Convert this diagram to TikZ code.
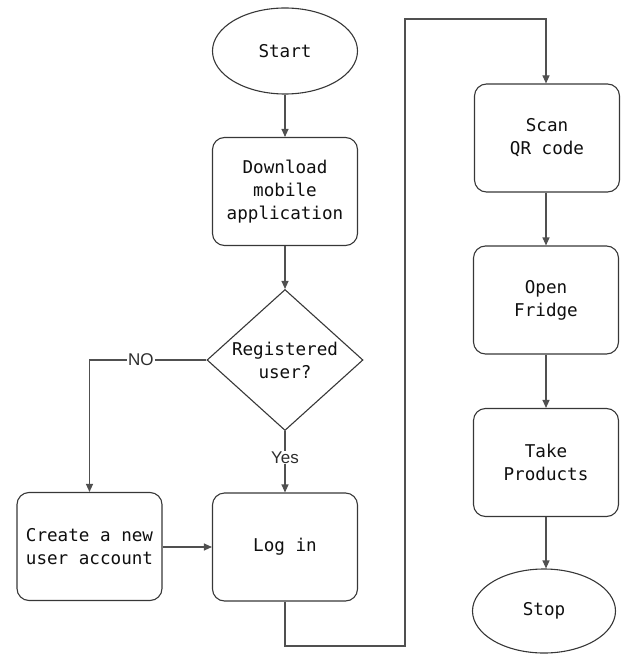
\documentclass[tikz,border=0pt]{standalone}
\usepackage{fontspec}
\usetikzlibrary{shapes.geometric,arrows.meta}
\newfontfamily\boxfont{DejaVu Sans Mono}
\newfontfamily\lblfont{Liberation Sans}
\definecolor{shapeclr}{RGB}{55,55,55}
\definecolor{lineclr}{RGB}{80,80,80}
\definecolor{txtclr}{RGB}{15,15,15}
\definecolor{lblclr}{RGB}{45,45,45}
\tikzset{
  boxtext/.style={font=\boxfont\fontsize{17.6}{23}\selectfont, text=txtclr, align=center},
  stepbox/.style={boxtext, draw=shapeclr, line width=1.1pt, rounded corners=12pt,
    minimum width=145pt, minimum height=108pt, inner sep=0pt},
  termbox/.style={boxtext, draw=shapeclr, line width=1.1pt, ellipse,
    minimum width=145pt, minimum height=86pt, inner sep=0pt},
  decbox/.style={draw=shapeclr, line width=1.1pt, diamond,
    minimum width=156pt, minimum height=141pt, inner sep=0pt},
  conn/.style={draw=lineclr, line width=1.1pt, -{Triangle[length=8pt,width=7pt]}},
  lbl/.style={font=\lblfont\fontsize{17}{20}\selectfont, text=lblclr, fill=white, inner sep=1pt}
}
\begin{document}
\begin{tikzpicture}[x=1pt,y=-1pt]
\useasboundingbox (0,0) rectangle (621,655);
\node[termbox] (start) at (285,51) {Start};
\node[stepbox] (download) at (285,191.5) {Download\\mobile\\application};
\node[decbox] (dec) at (285,360) {};
\node[boxtext] (dectext) at (dec.center) {Registered\\user?};
\node[stepbox] (create) at (89.5,546.5) {Create a new\\user account};
\node[stepbox] (login) at (285,547) {Log in};
\node[stepbox] (scan) at (547,138) {Scan\\QR code};
\node[stepbox] (fridge) at (546,300) {Open\\Fridge};
\node[stepbox] (take) at (546,462.5) {Take\\Products};
\node[termbox, minimum width=143pt, minimum height=84pt] (stop) at (544,611) {Stop};

\coordinate (b1) at (405,646);
\coordinate (b2) at (405,19);

\draw[conn] (start) -- (download);
\draw[conn] (download) -- (dec);
\draw[conn] (dec.west) -| node[lbl, pos=0.28] (nolbl) {NO} (create.north);
\draw[conn] (dec.south) -- node[lbl, pos=0.43] (yeslbl) {Yes} (login.north);
\draw[conn] (create.east |- login.west) -- (login.west);
\draw[conn] (login.south) |- (b1) -- (b2) -| ([xshift=-1pt]scan.north);
\draw[conn] (scan.south -| fridge.north) -- (fridge.north);
\draw[conn] (fridge) -- (take);
\draw[conn] (take.south) -- (take.south |- stop.north);
\end{tikzpicture}
\end{document}
